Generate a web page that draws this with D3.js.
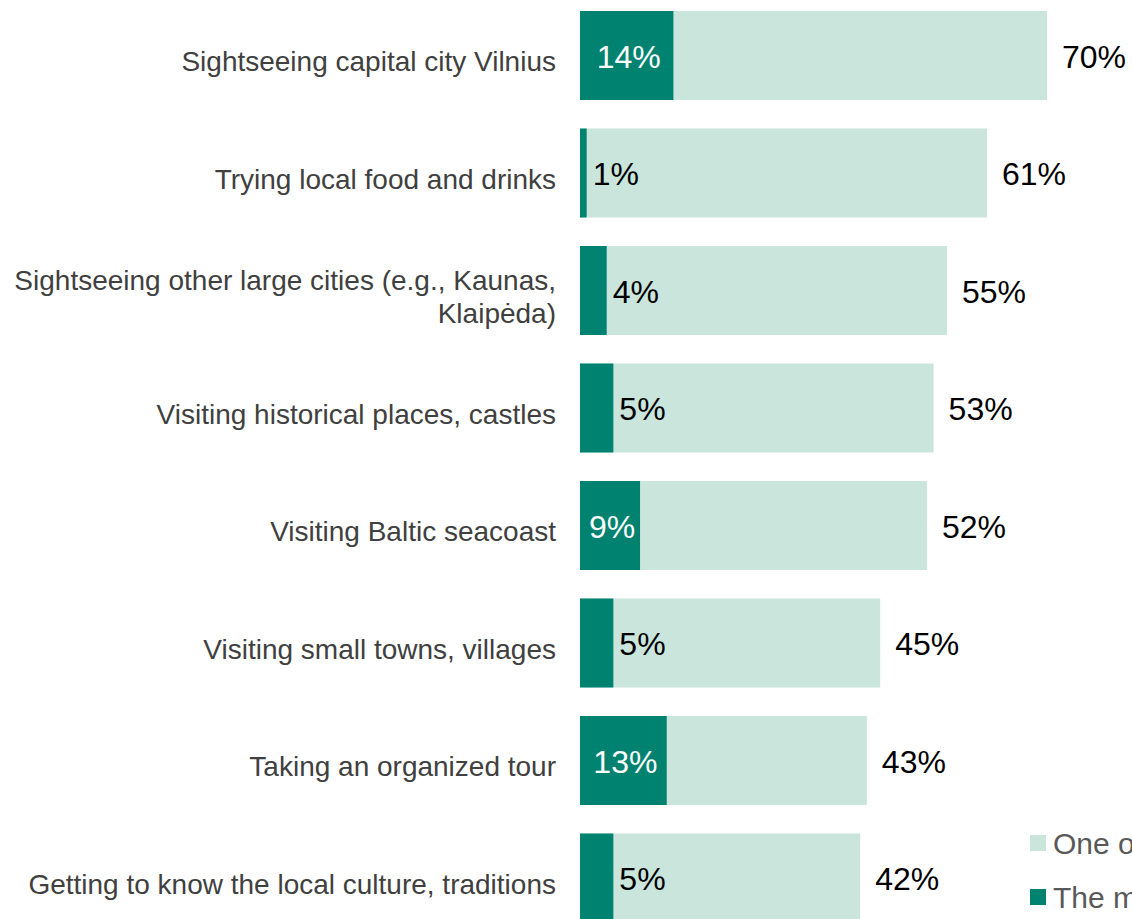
<!DOCTYPE html>
<html>
<head>
<meta charset="utf-8">
<script src="https://cdn.jsdelivr.net/npm/d3@7/dist/d3.min.js"></script>
<style>
  html, body { margin: 0; padding: 0; background: #fff; overflow: hidden; }
  svg { display: block; font-family: Arial, "Liberation Sans", sans-serif; }
</style>
</head>
<body>
<svg id="chart" width="1132" height="919"></svg>
<script>
// Activities, ordered as shown from top to bottom
const categories = [
  "Sightseeing capital city Vilnius",
  "Trying local food and drinks",
  "Sightseeing other large cities (e.g., Kaunas, Klaipėda)",
  "Visiting historical places, castles",
  "Visiting Baltic seacoast",
  "Visiting small towns, villages",
  "Taking an organized tour",
  "Getting to know the local culture, traditions"
];

// Share naming the activity as one of their favourites (%)
const oneOfValues = [70, 61, 55, 53, 52, 45, 43, 42];
// Share naming the activity as the single favourite (%)
const mostValues = [14, 1, 4, 5, 9, 5, 13, 5];

const seriesNames = [
  "One of the favourite activities",
  "The most favourite activity"
];

const colors = { oneOf: "#c9e5dc", most: "#008270" };

const svg = d3.select("#chart");

const x = d3.scaleLinear().domain([0, 70]).range([580, 1047]);
const y = d3.scaleBand()
  .domain(categories)
  .range([-3.25, 936.75])
  .paddingInner(0.2426)
  .paddingOuter(0.1213);

const rows = svg.append("g").selectAll("g.row")
  .data(categories.map((c, i) => ({ cat: c, one: oneOfValues[i], most: mostValues[i] })))
  .join("g")
  .attr("class", "row");

// Light bars
rows.append("rect")
  .attr("x", x(0))
  .attr("y", d => y(d.cat))
  .attr("width", d => x(d.one) - x(0))
  .attr("height", y.bandwidth())
  .attr("fill", colors.oneOf);

// Dark bars drawn on top
rows.append("rect")
  .attr("x", x(0))
  .attr("y", d => y(d.cat))
  .attr("width", d => x(d.most) - x(0))
  .attr("height", y.bandwidth())
  .attr("fill", colors.most);

// Value labels for the light bars
rows.append("text")
  .attr("x", d => x(d.one) + 15)
  .attr("y", d => y(d.cat) + y.bandwidth() / 2 + 1)
  .attr("dy", "0.35em")
  .attr("font-size", 32)
  .attr("fill", "#000")
  .text(d => d.one + "%");

// Value labels for the dark bars: inside in white when wide enough, else just after
rows.append("text")
  .attr("x", d => d.most >= 9 ? (x(0) + x(d.most)) / 2 + 2 : x(d.most) + 6)
  .attr("y", d => y(d.cat) + y.bandwidth() / 2 + 1)
  .attr("dy", "0.35em")
  .attr("text-anchor", d => d.most >= 9 ? "middle" : "start")
  .attr("font-size", 32)
  .attr("fill", d => d.most >= 9 ? "#fff" : "#000")
  .text(d => d.most + "%");

// Category labels, wrapped to the available width
const labelRight = 556;
const maxLabelWidth = 548;
const lineHeight = 33;
rows.append("text")
  .attr("x", labelRight)
  .attr("text-anchor", "end")
  .attr("font-size", 28)
  .attr("fill", "#404040")
  .each(function(d) {
    const t = d3.select(this);
    const words = d.cat.split(" ");
    const lines = [];
    let line = [];
    const probe = t.append("tspan");
    words.forEach(w => {
      const trial = line.concat(w).join(" ");
      probe.text(trial);
      if (line.length && probe.node().getComputedTextLength() > maxLabelWidth) {
        lines.push(line.join(" "));
        line = [w];
      } else {
        line.push(w);
      }
    });
    lines.push(line.join(" "));
    probe.remove();
    const cy = y(d.cat) + y.bandwidth() / 2 + 6;
    const y0 = cy - (lines.length - 1) * lineHeight / 2;
    lines.forEach((l, i) => {
      t.append("tspan")
        .attr("x", labelRight)
        .attr("y", y0 + i * lineHeight)
        .attr("dy", "0.35em")
        .text(l);
    });
  });

// Legend
const legend = svg.append("g").selectAll("g")
  .data(seriesNames)
  .join("g")
  .attr("transform", (d, i) => `translate(1030, ${835 + i * 54})`);

legend.append("rect")
  .attr("width", 16)
  .attr("height", 16)
  .attr("fill", (d, i) => i === 0 ? colors.oneOf : colors.most);

legend.append("text")
  .attr("x", 23)
  .attr("y", 8)
  .attr("dy", "0.35em")
  .attr("font-size", 30)
  .attr("fill", "#595959")
  .text(d => d);
</script>
</body>
</html>
